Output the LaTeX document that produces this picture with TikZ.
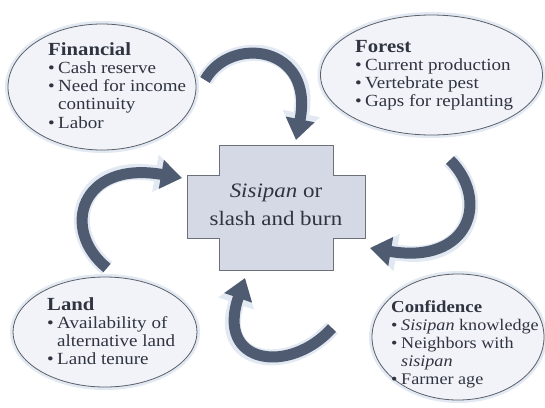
\documentclass[tikz,border=0pt]{standalone}
\usepackage{fontspec}
\setmainfont[FakeStretch=1.12]{Liberation Serif}
\usetikzlibrary{arrows.meta,shapes.geometric}
\definecolor{arrowc}{HTML}{4E5B70}
\definecolor{halo}{HTML}{E2E9F2}
\definecolor{ellf}{HTML}{F1F3F8}
\definecolor{ellc}{HTML}{5A5F68}
\definecolor{crossf}{HTML}{D5D9E5}
\definecolor{crossc}{HTML}{6B707A}
\definecolor{txtc}{HTML}{2F3440}
\newcommand\bodyfont{\fontsize{17}{18.3}\selectfont}
\newcommand\smallbody{\fontsize{16.2}{18}\selectfont}
\newcommand\hd[1]{{\bfseries\fontsize{18.5}{18.3}\selectfont #1}}
\newcommand\hdsmall[1]{{\bfseries\fontsize{16.8}{18}\selectfont #1}}
\newcommand\bl{\makebox[10pt][l]{•}}
\newcommand\ind{\hspace*{10pt}}
\begin{document}
\begin{tikzpicture}[x=1pt,y=-1pt,
  bubble/.style={ellipse, draw=ellc, fill=ellf, line width=0.8pt, inner sep=0pt,
    preaction={draw=halo, line width=6pt}},
  txt/.style={inner sep=0pt, anchor=base west, text=txtc, font=\bodyfont},
  arrhalo/.style={draw=halo, line width=16pt, -{Triangle[width=36pt,length=27pt]}},
  arrbody/.style={draw=arrowc, line width=11pt, -{Triangle[width=28pt,length=21pt]}}]
\useasboundingbox (0,0) rectangle (545,407);
% ellipses
\node[bubble, minimum width=188pt, minimum height=126pt] (fin) at (102,87) {};
\node[bubble, minimum width=222pt, minimum height=120pt] (for) at (431.5,75) {};
\node[bubble, minimum width=184pt, minimum height=110pt] (land) at (105,332) {};
\node[bubble, minimum width=172pt, minimum height=126pt] (conf) at (458,337) {};
% texts
\node[txt] (fintxt) at (48,55) {\begin{tabular}[t]{@{}l@{}}\hd{Financial}\\ \bl Cash reserve\\ \bl Need for income\\ \ind continuity\\ \bl Labor\end{tabular}};
\node[txt] (fortxt) at (355,52) {\begin{tabular}[t]{@{}l@{}}\hd{Forest}\\ \bl Current production\\ \bl Vertebrate pest\\ \bl Gaps for replanting\end{tabular}};
\node[txt] (landtxt) at (47,310) {\begin{tabular}[t]{@{}l@{}}\hd{Land}\\ \bl Availability of\\ \ind alternative land\\ \bl Land tenure\end{tabular}};
\node[txt, font=\smallbody] (conftxt) at (391,312) {\begin{tabular}[t]{@{}l@{}}\hdsmall{Confidence}\\ \bl \textit{Sisipan} knowledge\\ \bl Neighbors with\\ \ind \textit{sisipan}\\ \bl Farmer age\end{tabular}};
% central cross
\filldraw[fill=crossf, draw=crossc, line width=0.8pt]
  (219,145) -- (333,145) -- (333,175) -- (365,175) -- (365,238) -- (333,238)
  -- (333,270) -- (219,270) -- (219,238) -- (187,238) -- (187,175) -- (219,175) -- cycle;
\node[inner sep=0pt, anchor=base, text=txtc] (core) at (276,197)
  {\fontsize{20.5}{28}\selectfont\begin{tabular}[t]{@{}c@{}}\textit{Sisipan} or\\ slash and burn\end{tabular}};
% arrow end points
\coordinate (a1s) at (205,80);  \coordinate (a1e) at (296,140);
\coordinate (a2s) at (450,160); \coordinate (a2e) at (370,248);
\coordinate (a3s) at (332,328); \coordinate (a3e) at (245,278);
\coordinate (a4s) at (107,268); \coordinate (a4e) at (182,178);
% arrows: halo
\draw[arrhalo] (a1s) .. controls (230,35) and (315,45) .. (a1e);
\draw[arrhalo] (a2s) .. controls (490,200) and (470,265) .. (a2e);
\draw[arrhalo] (a3s) .. controls (290,375) and (215,365) .. (a3e);
\draw[arrhalo] (a4s) .. controls (60,230) and (80,160) .. (a4e);
% arrows: body
\draw[arrbody] (a1s) .. controls (230,35) and (315,45) .. (a1e);
\draw[arrbody] (a2s) .. controls (490,200) and (470,265) .. (a2e);
\draw[arrbody] (a3s) .. controls (290,375) and (215,365) .. (a3e);
\draw[arrbody] (a4s) .. controls (60,230) and (80,160) .. (a4e);
\end{tikzpicture}
\end{document}
